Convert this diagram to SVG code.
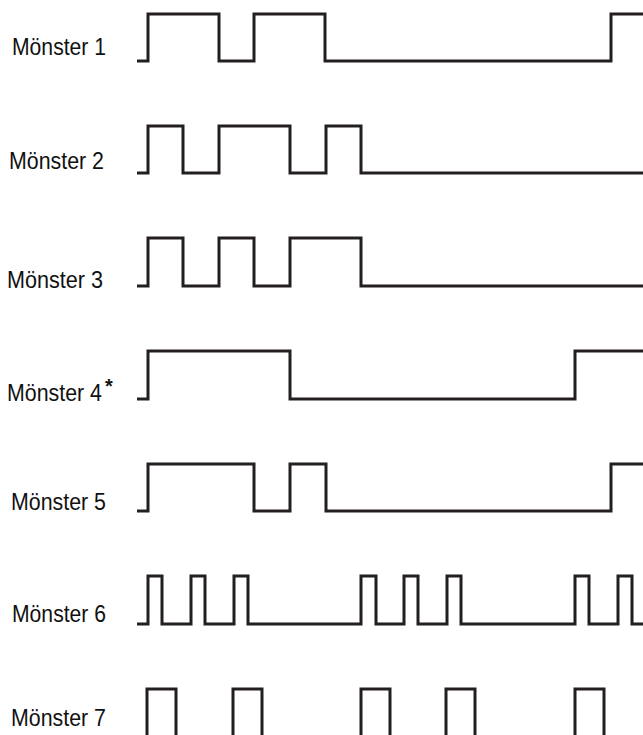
<svg xmlns="http://www.w3.org/2000/svg" width="643" height="735" viewBox="0 0 643 735">
<style>
.sig{fill:none;stroke:#231f20;stroke-width:3;stroke-linejoin:miter;stroke-linecap:butt}
.lbl{font-family:"Liberation Sans",Arial,sans-serif;font-size:23px;fill:#111}
.ast{font-size:20px;font-weight:bold}
</style>
<rect width="643" height="735" fill="#fff"/>
<g id="row1">
<text class="lbl" x="12" y="55" textLength="94" lengthAdjust="spacingAndGlyphs">Mönster 1</text>
<path class="sig" d="M137,61 H148 V14 H219 V61 H254 V14 H325 V61 H611 V14 H643"/>
</g>
<g id="row2">
<text class="lbl" x="9" y="169" textLength="95" lengthAdjust="spacingAndGlyphs">Mönster 2</text>
<path class="sig" d="M137,173 H148 V126 H183 V173 H219 V126 H290 V173 H326 V126 H361 V173 H643"/>
</g>
<g id="row3">
<text class="lbl" x="7" y="288" textLength="96" lengthAdjust="spacingAndGlyphs">Mönster 3</text>
<path class="sig" d="M137,286 H148 V238 H183 V286 H219 V238 H254 V286 H290 V238 H361 V286 H643"/>
</g>
<g id="row4">
<text class="lbl" x="7" y="401"><tspan textLength="95" lengthAdjust="spacingAndGlyphs">Mönster 4</tspan><tspan class="ast" dx="3" dy="-8">*</tspan></text>
<path class="sig" d="M137,399 H148 V351 H290 V399 H575 V351 H643"/>
</g>
<g id="row5">
<text class="lbl" x="11" y="510" textLength="95" lengthAdjust="spacingAndGlyphs">Mönster 5</text>
<path class="sig" d="M137,511 H148 V464 H254 V511 H290 V464 H326 V511 H611 V464 H643"/>
</g>
<g id="row6">
<text class="lbl" x="12" y="622" textLength="94" lengthAdjust="spacingAndGlyphs">Mönster 6</text>
<path class="sig" d="M137,624 H148 V576 H162 V624 H191 V576 H205 V624 H234 V576 H248 V624 H361 V576 H376 V624 H404 V576 H418 V624 H447 V576 H461 V624 H575 V576 H589 V624 H618 V576 H632 V624 H643"/>
</g>
<g id="row7">
<text class="lbl" x="11" y="726" textLength="95" lengthAdjust="spacingAndGlyphs">Mönster 7</text>
<path class="sig" d="M137,737 H147 V689 H176 V737 H233 V689 H262 V737 H361 V689 H390 V737 H446 V689 H475 V737 H575 V689 H604 V737 H643"/>
</g>
</svg>
